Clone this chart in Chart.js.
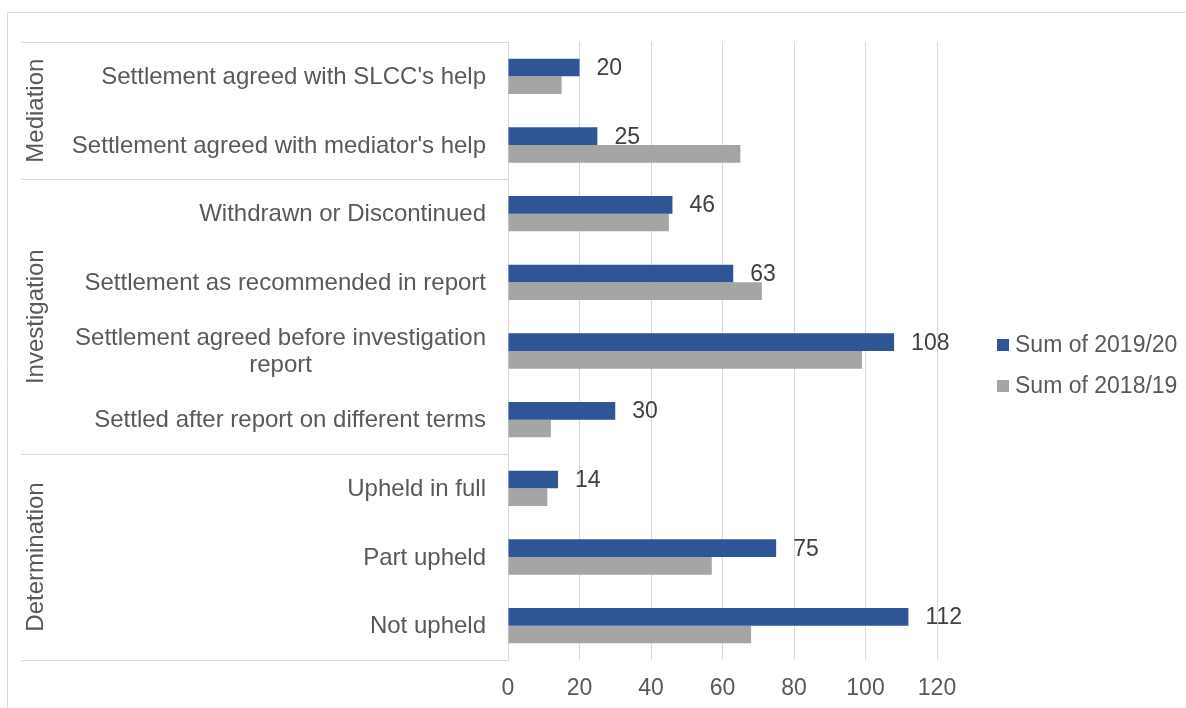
<!DOCTYPE html>
<html>
<head>
<meta charset="utf-8">
<script src="https://cdn.jsdelivr.net/npm/chart.js@4.4.0/dist/chart.umd.min.js"></script>
<style>
    html, body { margin: 0; padding: 0; background: #fff; }
    #wrap { width: 1186px; height: 708px; }
</style>
</head>
<body>
<div id="wrap"><canvas id="resolucionChart" width="1186" height="708"></canvas></div>
<script>
// Categories (bottom level of the axis) and their groups
const categorias = [
    "Settlement agreed with SLCC's help",
    "Settlement agreed with mediator's help",
    'Withdrawn or Discontinued',
    'Settlement as recommended in report',
    ['Settlement agreed before investigation', 'report'],
    'Settled after report on different terms',
    'Upheld in full',
    'Part upheld',
    'Not upheld'
];
const grupos = ['Mediation', 'Investigation', 'Determination'];
const tamanoGrupos = [2, 4, 3];

// Series
const serie2019 = [20, 25, 46, 63, 108, 30, 14, 75, 112];
const serie2018 = [15, 65, 45, 71, 99, 12, 11, 57, 68];
const nombresSeries = ['Sum of 2019/20', 'Sum of 2018/19'];
const coloresSeries = ['#2F5597', '#A5A5A5'];

// X axis ticks
const ticksX = [0, 20, 40, 60, 80, 100, 120];

const fuente = "'Liberation Sans', Arial, sans-serif";
const colorTexto = '#595959';
const colorLinea = '#D9D9D9';

// Draws the frame, the two-level category axis, data labels and legend
const extrasPlugin = {
    id: 'extras',
    beforeDraw(chart) {
        const ctx = chart.ctx;
        ctx.save();
        ctx.strokeStyle = colorLinea;
        ctx.lineWidth = 1;
        ctx.beginPath();
        ctx.moveTo(7.5, chart.height);
        ctx.lineTo(7.5, 12.5);
        ctx.lineTo(chart.width, 12.5);
        ctx.stroke();
        ctx.restore();
    },
    afterDraw(chart) {
        const ctx = chart.ctx;
        const y = chart.scales.y;
        const area = chart.chartArea;
        const paso = y.getPixelForTick(1) - y.getPixelForTick(0);

        ctx.save();
        ctx.font = '24px ' + fuente;
        ctx.fillStyle = colorTexto;
        ctx.textBaseline = 'middle';

        // category labels: block right aligned, lines centred in the block
        categorias.forEach((lbl, i) => {
            const lineas = Array.isArray(lbl) ? lbl : [lbl];
            const anchos = lineas.map(l => ctx.measureText(l).width);
            const maxAncho = Math.max(...anchos);
            const centroX = area.left - 22 - maxAncho / 2;
            const alto = 27;
            const y0 = y.getPixelForTick(i) + 1 - (lineas.length - 1) * alto / 2;
            ctx.textAlign = 'center';
            lineas.forEach((l, k) => ctx.fillText(l, centroX, y0 + k * alto));
        });

        // group separators and rotated group labels
        ctx.strokeStyle = colorLinea;
        ctx.lineWidth = 1;
        let inicio = 0;
        const bordes = [area.top];
        grupos.forEach((g, gi) => {
            const fin = inicio + tamanoGrupos[gi];
            const top = y.getPixelForTick(inicio) - paso / 2;
            const bottom = y.getPixelForTick(fin - 1) + paso / 2;
            bordes.push(bottom);
            ctx.save();
            ctx.translate(36, (top + bottom) / 2);
            ctx.rotate(-Math.PI / 2);
            ctx.textAlign = 'center';
            ctx.fillText(g, 0, 0);
            ctx.restore();
            inicio = fin;
        });
        ctx.beginPath();
        bordes.forEach(b => {
            const yy = Math.round(b) + 0.5;
            ctx.moveTo(21, yy);
            ctx.lineTo(area.left, yy);
        });
        ctx.stroke();

        // data labels for 2019/20
        ctx.font = '23px ' + fuente;
        ctx.fillStyle = '#404040';
        ctx.textAlign = 'left';
        chart.getDatasetMeta(0).data.forEach((bar, i) => {
            ctx.fillText(String(serie2019[i]), bar.x + 17, bar.y + 1);
        });

        // legend
        const legX = area.right + 60;
        nombresSeries.forEach((n, i) => {
            const cy = 345 + i * 41;
            ctx.fillStyle = coloresSeries[i];
            ctx.fillRect(legX, cy - 6, 12, 12);
            ctx.fillStyle = colorTexto;
            ctx.fillText(n, legX + 18, cy + 1);
        });
        ctx.restore();
    }
};

document.addEventListener('DOMContentLoaded', function() {
    const ctx = document.getElementById('resolucionChart').getContext('2d');
    new Chart(ctx, {
        type: 'bar',
        data: {
            labels: categorias,
            datasets: [{
                label: nombresSeries[0],
                data: serie2019,
                backgroundColor: coloresSeries[0]
            }, {
                label: nombresSeries[1],
                data: serie2018,
                backgroundColor: coloresSeries[1]
            }]
        },
        options: {
            indexAxis: 'y',
            responsive: false,
            animation: false,
            categoryPercentage: 0.515,
            barPercentage: 1,
            layout: { padding: { top: 42, right: 249, bottom: 0, left: 0 } },
            plugins: {
                legend: { display: false },
                tooltip: { enabled: false }
            },
            scales: {
                x: {
                    min: 0,
                    max: 120,
                    afterBuildTicks: s => { s.ticks = ticksX.map(v => ({ value: v })); },
                    afterFit: s => { s.height = 48; },
                    grid: { color: colorLinea, drawTicks: false },
                    border: { display: false },
                    ticks: {
                        padding: 15,
                        color: colorTexto,
                        font: { family: fuente, size: 23 }
                    }
                },
                y: {
                    afterFit: s => { s.width = 508; },
                    grid: { display: false },
                    border: { display: true, color: colorLinea },
                    ticks: { display: false }
                }
            }
        },
        plugins: [extrasPlugin]
    });
});
</script>
</body>
</html>
